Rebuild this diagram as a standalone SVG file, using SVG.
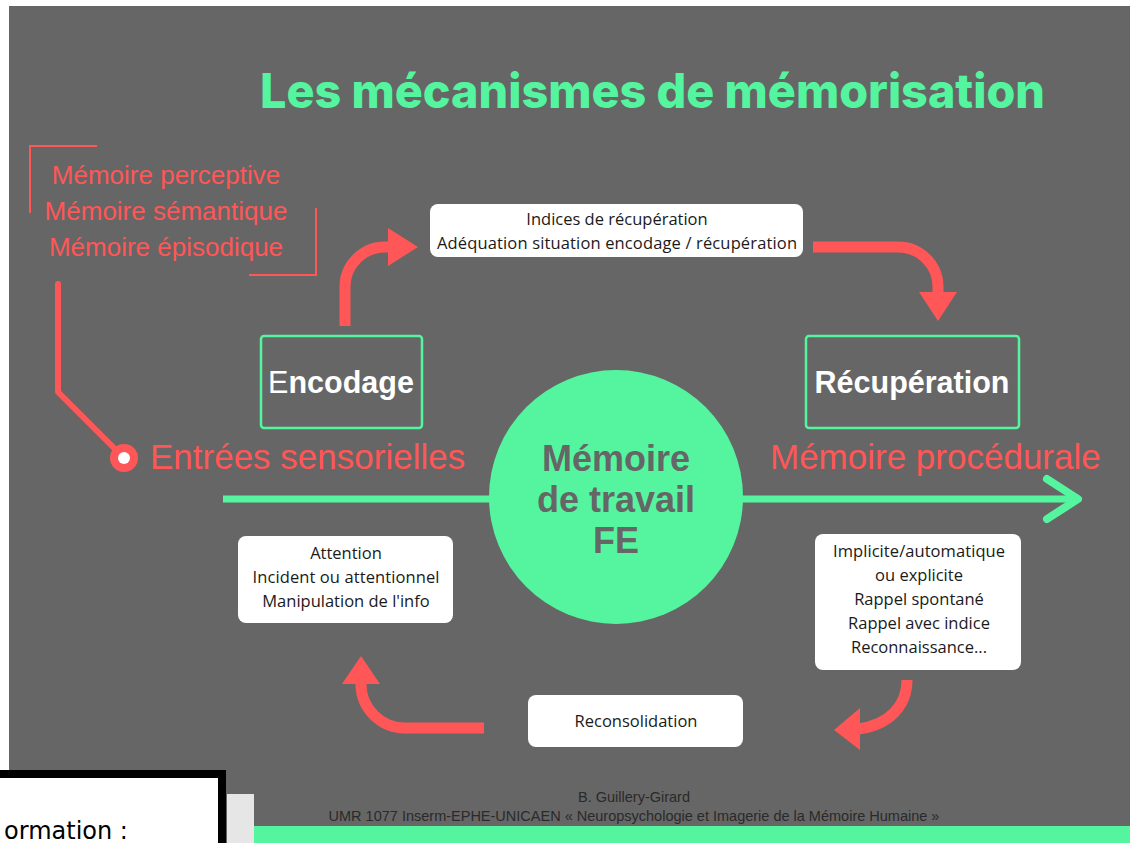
<svg xmlns="http://www.w3.org/2000/svg" width="1136" height="843" viewBox="0 0 1136 843">
<defs>
<style>
.red{fill:#FF5757;font-family:"Liberation Sans",Arial,sans-serif}
.box{fill:#FFFFFF}
.btxt{fill:#1a1a1a;font-family:"Open Sans","Noto Sans",sans-serif;font-size:16.5px;text-anchor:middle}
.gbox{fill:none;stroke:#55F59F;stroke-width:2.5}
.gtxt{fill:#FFFFFF;font-family:"Liberation Sans",Arial,sans-serif;font-size:30.5px;font-weight:700;text-anchor:middle}
.rarrow{fill:none;stroke:#FF5757;stroke-width:11}
.rhead{fill:#FF5757}
.foot{fill:#2a2a2a;font-family:"Liberation Sans",Arial,sans-serif;font-size:14.5px;text-anchor:middle}
</style>
</defs>
<rect x="0" y="0" width="1136" height="843" fill="#FFFFFF"/>
<rect x="9" y="6" width="1121" height="837" fill="#666666"/>
<rect x="254" y="826" width="876" height="17" fill="#55F59F"/>

<g id="title">
<text x="260" y="108" font-family="Inter,'Liberation Sans',sans-serif" font-weight="800" font-size="48" fill="#55F59F" textLength="785" lengthAdjust="spacingAndGlyphs">Les mécanismes de mémorisation</text>
</g>

<g id="connectors">
<polyline points="58,284 58,392 124,458" fill="none" stroke="#FF5757" stroke-width="6" stroke-linecap="round" stroke-linejoin="round"/>
<line x1="223" y1="499" x2="1078" y2="499" stroke="#55F59F" stroke-width="7"/>
<polyline points="1047,479 1078,499 1047,519" fill="none" stroke="#55F59F" stroke-width="8" stroke-linecap="round" stroke-linejoin="round"/>
<path class="rarrow" d="M345,326 L345,287 A40,40 0 0 1 385,247 L391,247"/>
<polygon class="rhead" points="388,228 418,247 388,266"/>
<path class="rarrow" d="M813,247 L898,247 A40,40 0 0 1 938,287 L938,294"/>
<polygon class="rhead" points="919,292 957,292 938,321"/>
<path class="rarrow" d="M907,680 C907,705 890,725 858,729"/>
<polygon class="rhead" points="860,708 860,750 834,730"/>
<path class="rarrow" d="M484,728 L405,728 A44,44 0 0 1 361,684 L361,682"/>
<polygon class="rhead" points="342,684 380,684 361,656"/>
</g>

<g id="memoires-liste">
<polyline points="97,146 30,146 30,213" fill="none" stroke="#FF5757" stroke-width="2"/>
<polyline points="316,208 316,275 249,275" fill="none" stroke="#FF5757" stroke-width="2"/>
<text class="red" x="166" y="184" font-size="26" text-anchor="middle">Mémoire perceptive</text>
<text class="red" x="166" y="220" font-size="26" text-anchor="middle">Mémoire sémantique</text>
<text class="red" x="166" y="256" font-size="26" text-anchor="middle">Mémoire épisodique</text>
</g>

<g id="entrees-sensorielles">
<circle cx="124" cy="458" r="14" fill="#FF5757"/>
<circle cx="124" cy="458" r="6" fill="#FFFFFF"/>
<text class="red" x="150" y="469" font-size="35">Entrées sensorielles</text>
</g>

<g id="memoire-procedurale">
<text class="red" x="770" y="469" font-size="35">Mémoire procédurale</text>
</g>

<g id="encodage">
<rect class="gbox" x="261" y="336" width="161" height="92" rx="3"/>
<text class="gtxt" x="341" y="393"><tspan font-weight="400">E</tspan>ncodage</text>
</g>

<g id="recuperation">
<rect class="gbox" x="806" y="336" width="213" height="92" rx="3"/>
<text class="gtxt" x="912" y="393">Récupération</text>
</g>

<g id="memoire-travail">
<circle cx="616" cy="497" r="127" fill="#55F59F"/>
<text x="616" y="471" font-family="'Liberation Sans',Arial,sans-serif" font-weight="700" font-size="36" fill="#666666" text-anchor="middle">Mémoire</text>
<text x="616" y="512" font-family="'Liberation Sans',Arial,sans-serif" font-weight="700" font-size="36" fill="#666666" text-anchor="middle">de travail</text>
<text x="616" y="553" font-family="'Liberation Sans',Arial,sans-serif" font-weight="700" font-size="36" fill="#666666" text-anchor="middle">FE</text>
</g>

<g id="indices">
<rect class="box" x="430" y="204" width="373" height="53" rx="8"/>
<text class="btxt" x="617" y="225">Indices de récupération</text>
<text class="btxt" x="617" y="249" textLength="360">Adéquation situation encodage / récupération</text>
</g>

<g id="attention">
<rect class="box" x="238" y="536" width="215" height="87" rx="8"/>
<text class="btxt" x="346" y="559">Attention</text>
<text class="btxt" x="346" y="583" textLength="187">Incident ou attentionnel</text>
<text class="btxt" x="346" y="607">Manipulation de l'info</text>
</g>

<g id="rappel">
<rect class="box" x="815" y="534" width="206" height="136" rx="8"/>
<text class="btxt" x="919" y="557" textLength="172">Implicite/automatique</text>
<text class="btxt" x="919" y="581">ou explicite</text>
<text class="btxt" x="919" y="605">Rappel spontané</text>
<text class="btxt" x="919" y="629">Rappel avec indice</text>
<text class="btxt" x="919" y="653">Reconnaissance...</text>
</g>

<g id="reconsolidation">
<rect class="box" x="528" y="695" width="215" height="52" rx="8"/>
<text class="btxt" x="636" y="727">Reconsolidation</text>
</g>

<g id="footer">
<text class="foot" x="634" y="802">B. Guillery-Girard</text>
<text class="foot" x="634" y="821">UMR 1077 Inserm-EPHE-UNICAEN « Neuropsychologie et Imagerie de la Mémoire Humaine »</text>
</g>

<g id="overlay">
<rect x="227" y="794" width="27" height="49" fill="#E6E6E6"/>
<rect x="-10" y="774" width="232" height="80" fill="#FFFFFF" stroke="#000000" stroke-width="8"/>
<text x="4" y="839" font-family="'DejaVu Sans',sans-serif" font-size="24" fill="#000000">ormation :</text>
</g>
</svg>
